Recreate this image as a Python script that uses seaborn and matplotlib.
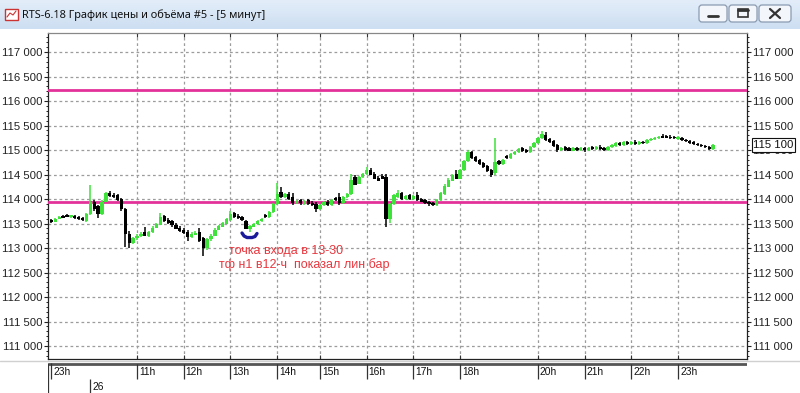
import matplotlib
matplotlib.use("Agg")
import matplotlib.pyplot as plt
from matplotlib.patches import Rectangle, FancyBboxPatch
from matplotlib.lines import Line2D
from matplotlib.ticker import MultipleLocator, FuncFormatter
from matplotlib.colors import LinearSegmentedColormap
import numpy as np
import pandas as pd
import seaborn as sns

# ---------------- data ----------------
title = "RTS-6.18 График цены и объёма #5 - [5 минут]"

opens = [113580, 113540, 113600, 113650, 113670, 113640, 113650, 113630, 113620, 113560,
         113700, 113950, 113860, 113700, 113950, 114120, 114080, 114080, 114000, 113800,
         113300, 113100, 113200, 113250, 113330, 113250, 113330, 113420, 113480, 113650,
         113580, 113560, 113480, 113420, 113380, 113340, 113220, 113280, 113340, 113200,
         113000, 113180, 113260, 113380, 113440, 113500, 113580, 113720, 113660, 113640,
         113560, 113400, 113440, 113490, 113550, 113680, 113630, 113740, 113900, 114150,
         114050, 114100, 114050, 113920, 113980, 113900, 113980, 113920, 113900, 113800,
         113880, 113950, 113880, 114020, 114040, 113920, 114040, 114100, 114450, 114320,
         114450, 114520, 114600, 114520, 114440, 114480, 114450, 113600, 113900, 114050,
         114120, 114000, 114080, 114000, 114080, 114000, 113980, 113940, 113920, 113880,
         113980, 114100, 114260, 114380, 114520, 114420, 114600, 114780, 114960, 114860,
         114800, 114740, 114680, 114600, 114540, 114780, 114720, 114880, 114840, 114920,
         114960, 115040, 115000, 114960, 115060, 115140, 115240, 115320, 115220, 115180,
         115100, 115000, 115060, 115040, 114990, 115050, 115000, 115040, 115000, 115060,
         115020, 115070, 115040, 115010, 115060, 115090, 115150, 115110, 115170, 115120,
         115170, 115130, 115170, 115140, 115200, 115220, 115240, 115300, 115290, 115280,
         115270, 115230, 115250, 115210, 115180, 115160, 115130, 115110, 115080, 115060,
         115030]
highs = [113600, 113610, 113660, 113680, 113690, 113670, 113670, 113650, 113640, 113720,
         114280, 113990, 113880, 113970, 114150, 114160, 114120, 114110, 114020, 113820,
         113340, 113230, 113290, 113330, 113420, 113350, 113440, 113520, 113720, 113680,
         113610, 113580, 113510, 113440, 113400, 113360, 113320, 113340, 113400, 113220,
         113200, 113280, 113400, 113470, 113540, 113620, 113760, 113740, 113690, 113660,
         113580, 113470, 113520, 113580, 113620, 113700, 113760, 113920, 114320, 114250,
         114130, 114140, 114120, 113990, 114000, 113980, 114000, 113950, 113930, 113900,
         113960, 113980, 114000, 114050, 114120, 114060, 114120, 114520, 114490, 114470,
         114540, 114660, 114630, 114550, 114470, 114510, 114520, 113920, 114100, 114180,
         114150, 114080, 114100, 114080, 114150, 114020, 114000, 113960, 113940, 114000,
         114140, 114300, 114420, 114520, 114600, 114620, 114800, 115000, 114980, 114880,
         114820, 114760, 114700, 114620, 115250, 114800, 114820, 114900, 114940, 114980,
         115040, 115060, 115020, 115080, 115160, 115260, 115380, 115360, 115240, 115200,
         115120, 115060, 115080, 115060, 115060, 115070, 115060, 115060, 115070, 115080,
         115080, 115100, 115060, 115080, 115120, 115160, 115170, 115180, 115190, 115190,
         115200, 115190, 115190, 115220, 115250, 115270, 115290, 115320, 115310, 115300,
         115290, 115280, 115270, 115230, 115200, 115180, 115150, 115130, 115100, 115080,
         115130]
lows = [113520, 113530, 113590, 113610, 113630, 113620, 113600, 113580, 113560, 113540,
        113680, 113750, 113620, 113680, 113930, 114040, 114020, 113960, 113760, 113020,
        113000, 113080, 113170, 113230, 113240, 113230, 113310, 113400, 113460, 113540,
        113490, 113430, 113380, 113330, 113290, 113140, 113200, 113260, 113120, 112840,
        112950, 113150, 113240, 113360, 113420, 113480, 113560, 113620, 113600, 113560,
        113380, 113330, 113420, 113470, 113530, 113610, 113610, 113720, 113880, 114030,
        114020, 113970, 113880, 113900, 113880, 113870, 113870, 113850, 113730, 113780,
        113860, 113860, 113860, 113960, 113880, 113900, 114020, 114080, 114280, 114300,
        114430, 114500, 114480, 114400, 114360, 114400, 113420, 113520, 113880, 114030,
        113970, 113980, 113980, 113980, 113960, 113930, 113900, 113860, 113860, 113860,
        113960, 114080, 114240, 114360, 114400, 114400, 114580, 114760, 114820, 114760,
        114700, 114640, 114560, 114450, 114500, 114700, 114700, 114820, 114820, 114900,
        114940, 114960, 114940, 114940, 115040, 115120, 115220, 115180, 115140, 115060,
        114960, 114980, 114980, 114970, 114970, 114980, 114980, 114960, 114980, 115000,
        115000, 115000, 114990, 114990, 115040, 115070, 115090, 115090, 115100, 115100,
        115110, 115110, 115120, 115120, 115180, 115200, 115220, 115240, 115240, 115220,
        115220, 115210, 115180, 115160, 115130, 115100, 115080, 115060, 115040, 115010,
        115000]
closes = [113540, 113600, 113640, 113620, 113640, 113650, 113620, 113600, 113580, 113700,
          113950, 113800, 113700, 113950, 114120, 114070, 114050, 113990, 113800, 113300,
          113100, 113200, 113260, 113300, 113250, 113330, 113420, 113500, 113640, 113560,
          113520, 113470, 113400, 113360, 113320, 113220, 113300, 113320, 113150, 113000,
          113180, 113260, 113380, 113450, 113520, 113600, 113700, 113640, 113620, 113580,
          113400, 113450, 113500, 113560, 113600, 113630, 113740, 113900, 114100, 114050,
          114100, 114000, 113920, 113960, 113920, 113960, 113900, 113880, 113800, 113880,
          113940, 113880, 113980, 113980, 113920, 114040, 114100, 114400, 114300, 114450,
          114520, 114600, 114500, 114420, 114380, 114420, 113600, 113900, 114080, 114120,
          114000, 114060, 114000, 114060, 113980, 113950, 113920, 113900, 113880, 113980,
          114120, 114280, 114400, 114500, 114420, 114600, 114780, 114960, 114840, 114780,
          114720, 114660, 114580, 114500, 114760, 114720, 114800, 114840, 114920, 114960,
          115020, 114980, 114960, 115060, 115140, 115240, 115330, 115200, 115160, 115080,
          115000, 115040, 115000, 114990, 115040, 115000, 115040, 115000, 115050, 115020,
          115060, 115020, 115010, 115060, 115100, 115140, 115110, 115160, 115120, 115170,
          115130, 115170, 115140, 115200, 115230, 115250, 115270, 115260, 115260, 115240,
          115240, 115260, 115200, 115180, 115150, 115120, 115100, 115080, 115060, 115030,
          115100]

hour_ticks = [0, 22, 34, 46, 58, 69, 81, 93, 105, 125, 137, 149, 161]
hour_labels = ["23h", "11h", "12h", "13h", "14h", "15h", "16h", "17h", "18h",
               "20h", "21h", "22h", "23h"]
day_tick = 10
day_label = "26"
levels = [116230, 113940]
note_lines = ["точка входа в 13-30", "тф н1 в12-ч  показал лин бар"]
note_x = [45.5, 43.0]
note_y = [112930, 112660]
mark_x = [48.97, 49.49, 50.26, 51.54, 52.31, 52.82]
mark_y = [113306, 113245, 113214, 113214, 113235, 113296]

# ---------------- style ----------------
sns.set_theme(style="white")
plt.rcParams["font.family"] = ["Liberation Sans", "DejaVu Sans"]

GREEN = "#3fe23a"
BLACK = "#000000"
MAGENTA = "#e2329a"
GRID = "#9c9c9c"

df = pd.DataFrame(dict(o=opens, h=highs, l=lows, c=closes))
df["i"] = np.arange(len(df))
df["up"] = df["c"] >= df["o"]

W, H = 800, 393
def fx(px):
    return px / W
def fy(py):
    return 1 - py / H

fig = plt.figure(figsize=(8, 3.93), dpi=100)
fig.patch.set_facecolor("white")

# ---------------- main price axes ----------------
ax = fig.add_axes([fx(48), fy(359), fx(747) - fx(48), fy(33) - fy(359)])
ax.set_facecolor("white")
ax.set_xlim(-0.87, 178.7)
ax.set_ylim(110735, 117388)

ax.set_yticks(np.arange(111000, 117001, 500))
ax.yaxis.set_minor_locator(MultipleLocator(100))
ax.yaxis.set_major_formatter(FuncFormatter(lambda v, p: f"{v:,.0f}".replace(",", " ")))
ax.grid(False)
for v in np.arange(111000, 117001, 500):
    ax.axhline(v, color=GRID, lw=0.9, ls=(0, (2.2, 2.2)), zorder=0)
for t in hour_ticks[1:]:
    ax.axvline(t, color=GRID, lw=0.9, ls=(0, (2.2, 2.2)), zorder=0)

ax.set_xticks(hour_ticks[1:])
ax.tick_params(axis="x", which="both", bottom=True, top=True, direction="in",
               length=3, width=0.8, color="#333333", labelbottom=False)
ax.tick_params(axis="y", which="major", left=True, right=True, labelleft=True,
               labelright=True, direction="out", length=3, width=0.8,
               labelsize=8.2, pad=1.2, colors="#222222")
ax.tick_params(axis="y", which="minor", left=True, right=True, direction="out",
               length=1.6, width=0.7, color="#222222")
for s in ax.spines.values():
    s.set_visible(True)
    s.set_color("#222222")
    s.set_linewidth(0.9)
ax.spines["top"].set_color("#888888")

for lvl in levels:
    ax.axhline(lvl, color=MAGENTA, lw=2.0, zorder=3)

for up, col in [(True, GREEN), (False, BLACK)]:
    d = df[df["up"] == up]
    ax.vlines(d["i"], d["l"], d["h"], color=col, lw=1.1, zorder=4)
    ax.bar(d["i"], np.maximum((d["c"] - d["o"]).abs(), 35),
           bottom=np.minimum(d["o"], d["c"]) - 5, width=0.85, color=col,
           linewidth=0, zorder=5)

ax.plot(mark_x, mark_y, color="#1a1a9a", lw=2.4, solid_capstyle="round", zorder=6)
for txt, tx, ty in zip(note_lines, note_x, note_y):
    ax.text(tx, ty, txt, color="#e8373e", fontsize=9, ha="left", va="center", zorder=6)

last = closes[-1]
ax.annotate(f"{last:,}".replace(",", " "), xy=(1, last), xycoords=ax.get_yaxis_transform(),
            xytext=(4.5, 0), textcoords="offset points", ha="left", va="center",
            fontsize=8.2, color="#111111", annotation_clip=False, zorder=10,
            bbox=dict(boxstyle="square,pad=0.15", fc="white", ec="#111111", lw=0.8))

# ---------------- time strip ----------------
sa = fig.add_axes([fx(48), 0, fx(747) - fx(48), 30 / H])
sa.set_xlim(ax.get_xlim())
sa.set_ylim(30, 0)
sa.axis("off")
sa.hlines(1.2, -0.87, 178.7, color="#555555", lw=2.0)
sa.vlines([-0.87, -0.2], 0, [30, 16], color="#333333", lw=0.9)
for t, lab in zip(hour_ticks, hour_labels):
    if t > 0:
        sa.vlines(t, 1.2, 16, color="#333333", lw=0.9)
    sa.text(t + 0.5, 8.7, lab, fontsize=7.4, ha="left", va="center", color="#111111")
sa.vlines(day_tick, 16, 30, color="#333333", lw=0.9)
sa.text(day_tick + 0.6, 23.5, day_label, fontsize=7.4, ha="left", va="center", color="#111111")

fig.add_artist(Line2D([0, 1], [fy(361), fy(361)], color="#d0d0d0", lw=1.0))

# ---------------- window title bar ----------------
tb = fig.add_axes([0, fy(29), 1, 29 / H])
tb.set_xlim(0, 800)
tb.set_ylim(29, 0)
tb.axis("off")
grad = np.linspace(0, 1, 30)[:, None]
cm = LinearSegmentedColormap.from_list("tb", ["#e3edf9", "#cddff2"])
tb.imshow(grad, extent=(0, 800, 29, 0), aspect="auto", cmap=cm, zorder=0)
tb.text(22, 15, title, fontsize=7.9, ha="left", va="center", color="#111111",
        family=["Noto Sans", "DejaVu Sans"])
tb.add_patch(Rectangle((5, 9), 13, 11, fc="white", ec="#cc3333", lw=1.0))
tb.plot([7, 10, 13, 16], [17, 13, 15, 11], color="#cc3333", lw=0.8)
for bx, bw in [(699, 28), (729, 28), (759, 32)]:
    tb.add_patch(FancyBboxPatch((bx, 5), bw, 17, boxstyle="round,pad=0,rounding_size=3",
                                fc="#f3f6fb", ec="#8a9ab0", lw=0.9))
tb.plot([708, 718], [16, 16], color="#333333", lw=2)
tb.add_patch(Rectangle((738, 9), 10, 8, fc="none", ec="#333333", lw=1.2))
tb.plot([738, 748], [9.5, 9.5], color="#333333", lw=2)
tb.plot([770, 780], [9, 18], color="#333333", lw=1.6)
tb.plot([770, 780], [18, 9], color="#333333", lw=1.6)

fig.savefig("out.png", dpi=100, facecolor="white")
